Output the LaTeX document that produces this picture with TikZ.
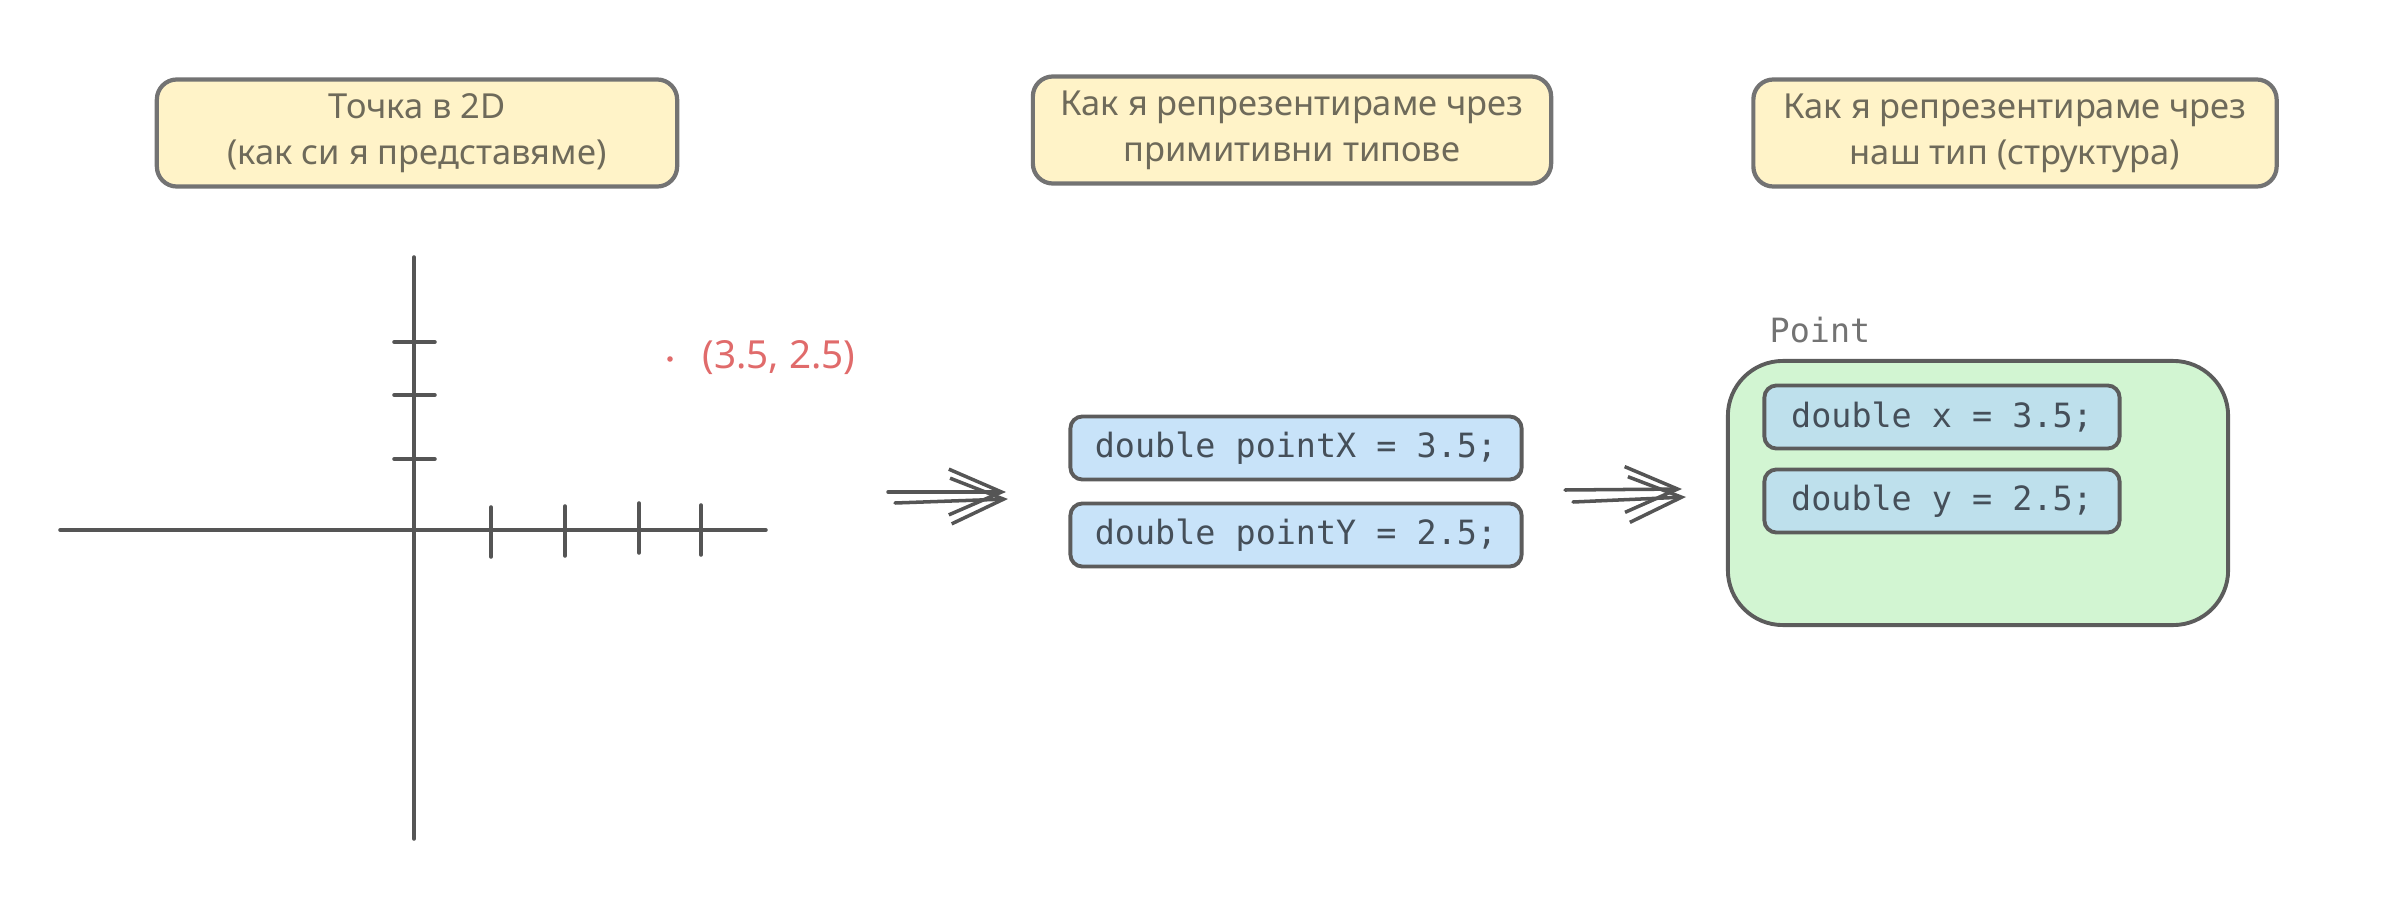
\documentclass[tikz,border=0pt]{standalone}
\usepackage{fontspec}
\setmainfont{Noto Sans}
\setmonofont{DejaVu Sans Mono}
\usetikzlibrary{positioning, arrows.meta}

\definecolor{notefill}{HTML}{FFF3C8}
\definecolor{noteline}{HTML}{737373}
\definecolor{noteink}{HTML}{6E6A5A}
\definecolor{codefill}{HTML}{C8E3F9}
\definecolor{codefillb}{HTML}{BEE0EC}
\definecolor{codeline}{HTML}{5C5C5C}
\definecolor{codeink}{HTML}{454F59}
\definecolor{structfill}{HTML}{D2F5D2}
\definecolor{axisgray}{HTML}{555555}
\definecolor{pointred}{HTML}{E06B6B}

\tikzset{
  titlebox/.style={draw=noteline, line width=1.2pt, fill=notefill, rounded corners=0.2cm,
    text=noteink, align=center, font=\fontsize{9.8}{13}\selectfont,
    minimum width=5.2cm, minimum height=1.07cm, inner sep=0pt},
  codebox/.style={draw=codeline, line width=1.1pt, fill=codefill, rounded corners=0.12cm,
    text=codeink, font=\ttfamily\fontsize{9.5}{11}\selectfont,
    minimum width=4.51cm, minimum height=0.63cm, inner sep=0pt},
  axisline/.style={draw=axisgray, line width=1pt, line cap=round},
  sketcharrow/.style={draw=axisgray, line width=1pt, line cap=round,
    -{Straight Barb[length=15pt,width=13pt]}},
}

\begin{document}
\begin{tikzpicture}[x=0.01cm, y=-0.01cm]
  \useasboundingbox (0,0) rectangle (2396,906);

  \node[titlebox] (t1) at (417,133) {Точка в 2D\\(как си я представяме)};
  \node[titlebox, minimum width=5.18cm] (t2) at (1292,130) {Как я репрезентираме чрез\\примитивни типове};
  \node[titlebox, minimum width=5.23cm] (t3) at (2015,133) {Как я репрезентираме чрез\\наш тип (структура)};

  \begin{scope}
    \draw[axisline] (414,257) -- (414,839);
    \draw[axisline] (60,530) -- (766,530);
    \foreach \ty in {342,395,459}
      \draw[axisline] (394,\ty) -- (435,\ty);
    \draw[axisline] (491,507) -- (491,557);
    \draw[axisline] (565,506) -- (565,556);
    \draw[axisline] (639,503) -- (639,553);
    \draw[axisline] (701,505) -- (701,555);
    \coordinate (pt) at (670,359);
    \fill[pointred] (pt) circle (0.028cm);
    \node[anchor=west, text=pointred, font=\fontsize{11}{13}\selectfont, inner sep=0pt] (ptlabel) at (702,358) {(3.5, 2.5)};
  \end{scope}

  \node[codebox] (px) at (1296,448) {double pointX = 3.5;};
  \node[codebox] (py) at (1296,535) {double pointY = 2.5;};

  \node[draw=codeline, line width=1.1pt, fill=structfill, rounded corners=0.55cm,
    minimum width=5cm, minimum height=2.64cm] (point) at (1978,493) {};
  \node[anchor=base west, text=noteline, font=\ttfamily\fontsize{9.5}{11}\selectfont, inner sep=0pt] (pointname) at (1769,342) {Point};
  \node[codebox, fill=codefillb, minimum width=3.55cm] (sx) at (1942,417) {double x = 3.5;};
  \node[codebox, fill=codefillb, minimum width=3.55cm] (sy) at (1942,501) {double y = 2.5;};

  \coordinate (a1s) at (888,492);
  \coordinate (a1e) at (1006,492);
  \coordinate (a2s) at (1565,490);
  \coordinate (a2e) at (1682,489);
  \draw[sketcharrow] (a1s) -- (a1e);
  \draw[sketcharrow] ([shift={(7,11)}]a1s) -- ([shift={(2,7)}]a1e);
  \draw[sketcharrow] (a2s) -- (a2e);
  \draw[sketcharrow] ([shift={(8,12)}]a2s) -- ([shift={(4,8)}]a2e);
\end{tikzpicture}
\end{document}
